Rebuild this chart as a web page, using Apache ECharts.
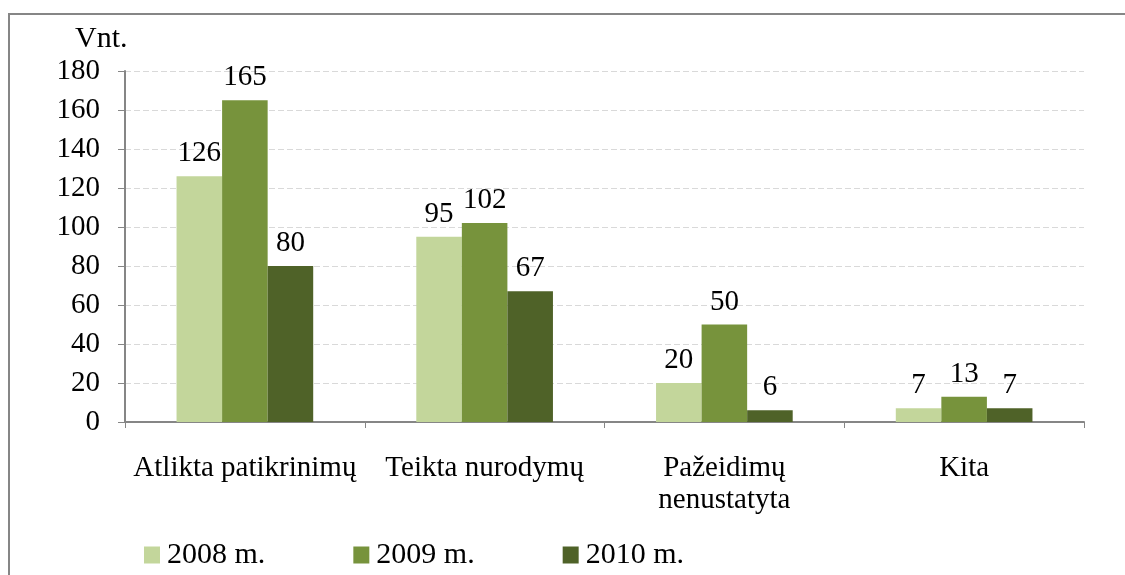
<!DOCTYPE html>
<html>
<head>
<meta charset="utf-8">
<script src="https://cdn.jsdelivr.net/npm/echarts@6/dist/echarts.min.js"></script>
<style>
  html, body { margin: 0; padding: 0; background: #fff; }
  #chart { width: 1125px; height: 575px; }
</style>
</head>
<body>
<div id="chart"></div>
<script>
// Duomenys
const kategorijos = ['Atlikta patikrinimų', 'Teikta nurodymų', 'Pažeidimų\nnenustatyta', 'Kita'];
const metai = ['2008 m.', '2009 m.', '2010 m.'];
const reiksmes2008 = [126, 95, 20, 7];
const reiksmes2009 = [165, 102, 50, 13];
const reiksmes2010 = [80, 67, 6, 7];
const spalvos = ['#c3d69b', '#77933c', '#4f6228'];

const chart = echarts.init(document.getElementById('chart'));
const sriftas = '"Liberation Serif", "Times New Roman", serif';
const dydis = 29;

const serija = (vardas, duomenys, spalva) => ({
    name: vardas,
    type: 'bar',
    data: duomenys,
    barGap: '0%',
    barCategoryGap: '43%',
    itemStyle: { color: spalva },
    label: {
        show: true,
        position: 'top',
        distance: 8,
        color: '#000',
        fontFamily: sriftas,
        fontSize: dydis
    }
});

const option = {
    animation: false,
    textStyle: { fontFamily: sriftas },
    grid: { left: 125, right: 41, top: 71, bottom: 153 },
    graphic: [
        {
            type: 'rect',
            shape: { x: 9, y: 14, width: 1140, height: 600 },
            style: { fill: 'none', stroke: '#868686', lineWidth: 2 },
            silent: true
        },
        {
            type: 'text',
            left: 75,
            top: 24,
            style: { text: 'Vnt.', fontFamily: sriftas, fontSize: 30, fill: '#000' }
        }
    ],
    legend: {
        data: metai,
        left: 144,
        top: 540,
        padding: 0,
        itemWidth: 16,
        itemHeight: 17,
        itemGap: 88,
        icon: 'rect',
        textStyle: { fontFamily: sriftas, fontSize: 30, color: '#000', padding: [5, 0, 0, 2] }
    },
    xAxis: {
        type: 'category',
        data: kategorijos,
        axisLine: { lineStyle: { color: '#868686', width: 2 } },
        axisTick: { show: true, length: 6, lineStyle: { color: '#868686', width: 1 } },
        axisLabel: {
            color: '#000',
            fontFamily: sriftas,
            fontSize: dydis,
            margin: 30,
            lineHeight: 32,
            interval: 0
        }
    },
    yAxis: {
        type: 'value',
        min: 0,
        max: 180,
        interval: 20,
        axisLine: { show: true, lineStyle: { color: '#868686', width: 2 } },
        axisTick: { show: true, length: 7, lineStyle: { color: '#868686', width: 1 } },
        axisLabel: { color: '#000', fontFamily: sriftas, fontSize: dydis, margin: 25 },
        splitLine: { lineStyle: { color: '#d9d9d9', type: [6, 3], width: 1 } }
    },
    series: [
        serija(metai[0], reiksmes2008, spalvos[0]),
        serija(metai[1], reiksmes2009, spalvos[1]),
        serija(metai[2], reiksmes2010, spalvos[2])
    ]
};

chart.setOption(option);
</script>
</body>
</html>
